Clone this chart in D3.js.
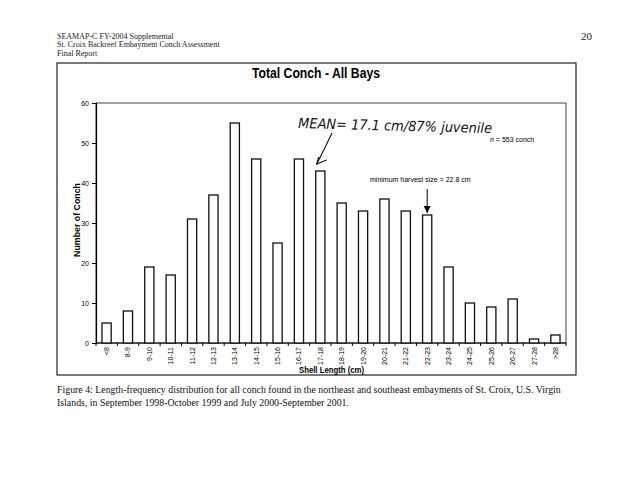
<!DOCTYPE html>
<html>
<head>
<meta charset="utf-8">
<script src="https://cdn.jsdelivr.net/npm/d3@7"></script>
<style>
  body { margin: 0; background: #fff; }
  svg { display: block; }
</style>
</head>
<body>
<svg id="chart"></svg>
<script>
// length classes and counts (n = 553)
var categories = ["<8", "8-9", "9-10", "10-11", "11-12", "12-13", "13-14", "14-15", "15-16", "16-17", "17-18",
                  "18-19", "19-20", "20-21", "21-22", "22-23", "23-24", "24-25", "25-26", "26-27", "27-28", ">28"];
var counts = [5, 8, 19, 17, 31, 37, 55, 46, 25, 46, 43, 35, 33, 36, 33, 32, 19, 10, 9, 11, 1, 2];
var yTicks = [0, 10, 20, 30, 40, 50, 60];
var headerLines = ["SEAMAP-C FY-2004 Supplemental", "St. Croix Backreef Embayment Conch Assessment", "Final Report"];
var captionLines = ["Figure 4: Length-frequency distribution for all conch found in the northeast and southeast embayments of St. Croix, U.S. Virgin",
                    "Islands, in September 1998-October 1999 and July 2000-September 2001."];

(function () {
var W = 630, H = 489;
var svg = d3.select("#chart").attr("width", W).attr("height", H);

var serif = "'Liberation Serif', 'Times New Roman', serif";
var sans = "'Liberation Sans', Arial, sans-serif";

// page header
svg.selectAll("text.header").data(headerLines).enter().append("text")
  .attr("class", "header")
  .attr("x", 57).attr("y", function (d, i) { return 39 + i * 8.3; })
  .style("font-family", serif).style("font-size", "8px").attr("fill", "#222")
  .text(function (d) { return d; });

svg.append("text").attr("x", 592).attr("y", 40).attr("text-anchor", "end")
  .style("font-family", serif).style("font-size", "11px").attr("fill", "#222").text("20");

// outer chart frame
svg.append("rect").attr("x", 57).attr("y", 63).attr("width", 519).attr("height", 312)
  .attr("fill", "none").attr("stroke", "#222").attr("stroke-width", 1.2);

svg.append("text").attr("x", 252).attr("y", 78)
  .attr("textLength", 128).attr("lengthAdjust", "spacingAndGlyphs")
  .style("font-family", sans).style("font-size", "14px").style("font-weight", "bold")
  .text("Total Conch - All Bays");

// plot area
var pLeft = 96, pRight = 566, pTop = 103, pBottom = 343;

var x = d3.scaleBand().domain(categories).range([pLeft, pRight]).paddingInner(0.57).paddingOuter(0.28);
var y = d3.scaleLinear().domain([0, 60]).range([pBottom, pTop]);

svg.append("rect").attr("x", pLeft).attr("y", pTop).attr("width", pRight - pLeft).attr("height", pBottom - pTop)
  .attr("fill", "none").attr("stroke", "#333").attr("stroke-width", 0.9);

// y axis
var yAxis = svg.append("g").attr("transform", "translate(" + pLeft + ",0)")
  .call(d3.axisLeft(y).tickValues(yTicks).tickSize(4).tickPadding(3));
yAxis.select(".domain").attr("stroke-width", 1.2);
yAxis.selectAll("text").style("font-family", sans).style("font-size", "7px");

// x axis: ticks between categories
var xAxis = svg.append("g").attr("transform", "translate(0," + pBottom + ")");
xAxis.append("line").attr("x1", pLeft).attr("x2", pRight).attr("stroke", "#000").attr("stroke-width", 1.2);
var step = (pRight - pLeft) / categories.length;
xAxis.selectAll("line.tk").data(d3.range(categories.length + 1)).enter().append("line")
  .attr("class", "tk")
  .attr("x1", function (i) { return pLeft + i * step; })
  .attr("x2", function (i) { return pLeft + i * step; })
  .attr("y1", 0).attr("y2", 3).attr("stroke", "#000");
xAxis.selectAll("text.lab").data(categories).enter().append("text")
  .attr("class", "lab")
  .attr("transform", function (d) { return "translate(" + (x(d) + x.bandwidth() / 2 + 2.5) + ",4) rotate(-90)"; })
  .attr("text-anchor", "end")
  .style("font-family", sans).style("font-size", "7px")
  .text(function (d) { return d; });

// bars
svg.selectAll("rect.bar").data(counts).enter().append("rect")
  .attr("class", "bar")
  .attr("x", function (d, i) { return x(categories[i]); })
  .attr("width", x.bandwidth())
  .attr("y", function (d) { return y(d); })
  .attr("height", function (d) { return pBottom - y(d); })
  .attr("fill", "#fff").attr("stroke", "#111").attr("stroke-width", 1.3);

// axis titles
svg.append("text").attr("transform", "translate(80,220) rotate(-90)")
  .attr("text-anchor", "middle")
  .style("font-family", sans).style("font-size", "8.8px").style("font-weight", "bold")
  .text("Number of Conch");

svg.append("text").attr("x", 299).attr("y", 373)
  .attr("textLength", 65).attr("lengthAdjust", "spacingAndGlyphs")
  .style("font-family", sans).style("font-size", "9px").style("font-weight", "bold")
  .text("Shell Length (cm)");

// n annotation
var nText = svg.append("text").attr("x", 490).attr("y", 142)
  .style("font-family", sans).style("font-size", "7px");
nText.append("tspan").style("font-style", "italic").text("n");
nText.append("tspan").text(" = 553 conch");

// minimum harvest size annotation
var mhs = "22-23";
var mx = x(mhs) + x.bandwidth() / 2;
var my = y(counts[categories.indexOf(mhs)]) - 2;
svg.append("text").attr("x", 370).attr("y", 182)
  .style("font-family", sans).style("font-size", "7px")
  .text("minimum harvest size = 22.8 cm");
svg.append("line").attr("x1", mx).attr("x2", mx).attr("y1", 189).attr("y2", my)
  .attr("stroke", "#000").attr("stroke-width", 1);
svg.append("path")
  .attr("d", "M" + (mx - 3.5) + "," + (my - 7) + " L" + mx + "," + my + " L" + (mx + 3.5) + "," + (my - 7) + " Z")
  .attr("fill", "#000");

// handwritten mean note
svg.append("text").attr("transform", "translate(298,128) rotate(1.5)")
  .attr("textLength", 194).attr("lengthAdjust", "spacingAndGlyphs")
  .style("font-family", "'DejaVu Sans', sans-serif").style("font-size", "14px").style("font-style", "italic")
  .attr("fill", "#111")
  .text("MEAN= 17.1 cm/87% juvenile");
var mean = "17-18";
var ax = x(mean) + 1, ay = y(counts[categories.indexOf(mean)]) - 7;
svg.append("path")
  .attr("d", "M332,133 Q324,150 " + ax + "," + ay)
  .attr("fill", "none").attr("stroke", "#111").attr("stroke-width", 1.1);
svg.append("path")
  .attr("d", "M" + (ax + 2) + "," + (ay - 7) + " L" + ax + "," + ay + " L" + (ax + 10) + "," + (ay - 4))
  .attr("fill", "none").attr("stroke", "#111").attr("stroke-width", 1.1);

// caption
svg.selectAll("text.caption").data(captionLines).enter().append("text")
  .attr("class", "caption")
  .attr("x", 57).attr("y", function (d, i) { return 393 + i * 13; })
  .style("font-family", serif).style("font-size", "9.85px").attr("fill", "#111")
  .text(function (d) { return d; });
})();
</script>
</body>
</html>
